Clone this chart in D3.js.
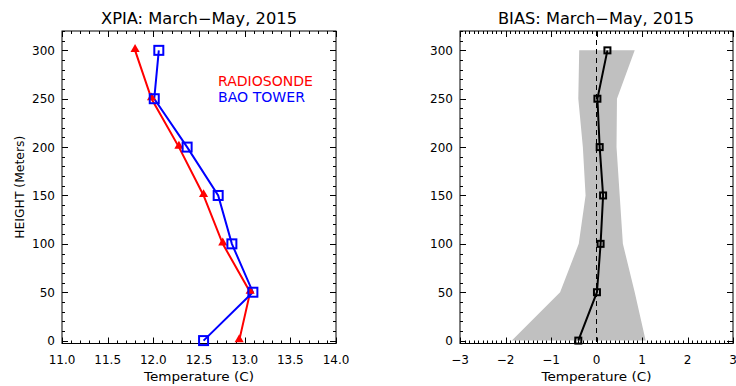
<!DOCTYPE html>
<html>
<head>
<meta charset="utf-8">
<script src="https://cdn.jsdelivr.net/npm/d3@7"></script>
<style>
  html, body { margin: 0; padding: 0; background: #fff; }
  svg { display: block; font-family: "DejaVu Sans", sans-serif; }
</style>
</head>
<body>
<svg id="chart" width="736" height="386"></svg>
<script>
// Heights of the observation levels (m)
const heights = [0, 50, 100, 150, 200, 250, 300];

// Mean temperature profiles, March-May 2015 (deg C)
const radiosonde = [12.94, 13.06, 12.76, 12.55, 12.28, 11.98, 11.80];
const baoTower   = [12.55, 13.09, 12.86, 12.71, 12.37, 12.01, 12.06];

// Tower minus radiosonde bias and its spread (deg C)
const bias      = [-0.40, 0.01, 0.09, 0.145, 0.07, 0.02, 0.24];
const biasLow   = [-1.86, -0.80, -0.39, -0.24, -0.30, -0.40, -0.38];
const biasHigh  = [ 1.08,  0.84,  0.58,  0.51,  0.44,  0.45,  0.84];

// Axis ticks
const tempTicks = [11.0, 11.5, 12.0, 12.5, 13.0, 13.5, 14.0];
const biasTicks = [-3, -2, -1, 0, 1, 2, 3];
const heightTicks = [0, 50, 100, 150, 200, 250, 300];

const svg = d3.select("#chart");
const plotTop = 31, plotBottom = 343.5;

const y = d3.scaleLinear().domain([-3, 320]).range([plotBottom, plotTop]);
const xL = d3.scaleLinear().domain([11, 14]).range([62, 336]);
const xR = d3.scaleLinear().domain([-3, 3]).range([460, 733]);

const majorLen = 6, minorLen = 3;

// Framed plot box with inward ticks on all four sides
function frame(x, xMajor, xMinorStep, xFmt, labelEnd) {
  const [x0, x1] = x.range();
  const g = svg.append("g");
  g.append("rect").attr("x", x0).attr("y", plotTop)
    .attr("width", x1 - x0).attr("height", plotBottom - plotTop)
    .attr("fill", "none").attr("stroke", "#000").attr("stroke-width", 1);

  const [d0, d1] = x.domain();
  const nMinor = Math.round((d1 - d0) / xMinorStep);
  const xMinor = d3.range(nMinor + 1).map(i => d0 + i * xMinorStep);
  const yMinor = d3.range(0, 321, 10);

  const tick = (ax, ay, bx, by) =>
    g.append("line").attr("x1", ax).attr("y1", ay).attr("x2", bx).attr("y2", by)
      .attr("stroke", "#000").attr("stroke-width", 1);

  xMinor.forEach(v => {
    const isMajor = xMajor.some(m => Math.abs(m - v) < 1e-6);
    const len = isMajor ? majorLen : minorLen;
    const px = Math.round(x(v)) + 0.5;
    tick(px, plotBottom, px, plotBottom - len);
    tick(px, plotTop, px, plotTop + len);
  });
  yMinor.forEach(v => {
    const isMajor = v % 50 === 0;
    const len = isMajor ? majorLen : minorLen;
    const py = Math.round(y(v)) + 0.5;
    tick(x0, py, x0 + len, py);
    tick(x1, py, x1 - len, py);
  });

  g.selectAll("text.xt").data(xMajor).enter().append("text")
    .attr("x", d => x(d)).attr("y", 364)
    .attr("text-anchor", "middle").attr("font-size", 12)
    .text(xFmt);
  g.selectAll("text.yt").data(heightTicks).enter().append("text")
    .attr("x", labelEnd).attr("y", d => y(d) + 4.5)
    .attr("text-anchor", "end").attr("font-size", 12)
    .text(d => d);

  g.append("text").attr("x", (x0 + x1) / 2).attr("y", 381)
    .attr("text-anchor", "middle").attr("font-size", 13)
    .attr("textLength", 110).attr("lengthAdjust", "spacingAndGlyphs")
    .text("Temperature (C)");
  return g;
}

// ---- Left panel: temperature profiles ----
frame(xL, tempTicks, 0.1, d => d.toFixed(1), 55);

svg.append("text").attr("x", 199).attr("y", 24)
  .attr("text-anchor", "middle").attr("font-size", 15)
  .attr("textLength", 196).attr("lengthAdjust", "spacingAndGlyphs")
  .text("XPIA: March\u2212May, 2015");

svg.append("text")
  .attr("transform", `translate(24,${(plotTop + plotBottom) / 2}) rotate(-90)`)
  .attr("text-anchor", "middle").attr("font-size", 12)
  .attr("textLength", 103).attr("lengthAdjust", "spacingAndGlyphs")
  .text("HEIGHT (Meters)");

const lineL = (vals) => d3.line().x((d, i) => xL(vals[i])).y((d, i) => y(heights[i]))(heights);

svg.append("path").attr("d", lineL(radiosonde))
  .attr("fill", "none").attr("stroke", "#ff0000").attr("stroke-width", 2);
svg.append("path").attr("d", lineL(baoTower))
  .attr("fill", "none").attr("stroke", "#0000ff").attr("stroke-width", 2);

const tri = d3.symbol().type(d3.symbolTriangle).size(36);
svg.selectAll("path.tri").data(heights).enter().append("path")
  .attr("d", tri)
  .attr("transform", (d, i) => `translate(${xL(radiosonde[i])},${y(d) - 1})`)
  .attr("fill", "#ff0000");

svg.selectAll("rect.sq").data(heights).enter().append("rect")
  .attr("x", (d, i) => xL(baoTower[i]) - 4.5).attr("y", d => y(d) - 4.5)
  .attr("width", 9).attr("height", 9)
  .attr("fill", "none").attr("stroke", "#0000ff").attr("stroke-width", 2);

svg.append("text").attr("x", 218).attr("y", 86).attr("font-size", 14)
  .attr("fill", "#ff0000").attr("textLength", 95).attr("lengthAdjust", "spacingAndGlyphs")
  .text("RADIOSONDE");
svg.append("text").attr("x", 218).attr("y", 102).attr("font-size", 14)
  .attr("fill", "#0000ff").attr("textLength", 87).attr("lengthAdjust", "spacingAndGlyphs")
  .text("BAO TOWER");

// ---- Right panel: bias with spread ----
const band = d3.area()
  .y((d, i) => y(heights[i]))
  .x0((d, i) => xR(biasLow[i]))
  .x1((d, i) => xR(biasHigh[i]));
svg.append("path").attr("d", band(heights))
  .attr("fill", "#c0c0c0");

frame(xR, biasTicks, 0.1, d => d === 0 ? "0" : (d < 0 ? "\u2212" + Math.abs(d) : d), 453);

svg.append("line").attr("x1", xR(0)).attr("x2", xR(0))
  .attr("y1", plotTop).attr("y2", plotBottom)
  .attr("stroke", "#000").attr("stroke-width", 1).attr("stroke-dasharray", "5,4");

svg.append("path")
  .attr("d", d3.line().x((d, i) => xR(bias[i])).y((d, i) => y(heights[i]))(heights))
  .attr("fill", "none").attr("stroke", "#000").attr("stroke-width", 2);

svg.selectAll("rect.bsq").data(heights).enter().append("rect")
  .attr("x", (d, i) => xR(bias[i]) - 3).attr("y", d => y(d) - 3)
  .attr("width", 6).attr("height", 6)
  .attr("fill", "none").attr("stroke", "#000").attr("stroke-width", 2);

svg.append("text").attr("x", 596).attr("y", 24)
  .attr("text-anchor", "middle").attr("font-size", 15)
  .attr("textLength", 196).attr("lengthAdjust", "spacingAndGlyphs")
  .text("BIAS: March\u2212May, 2015");
</script>
</body>
</html>
